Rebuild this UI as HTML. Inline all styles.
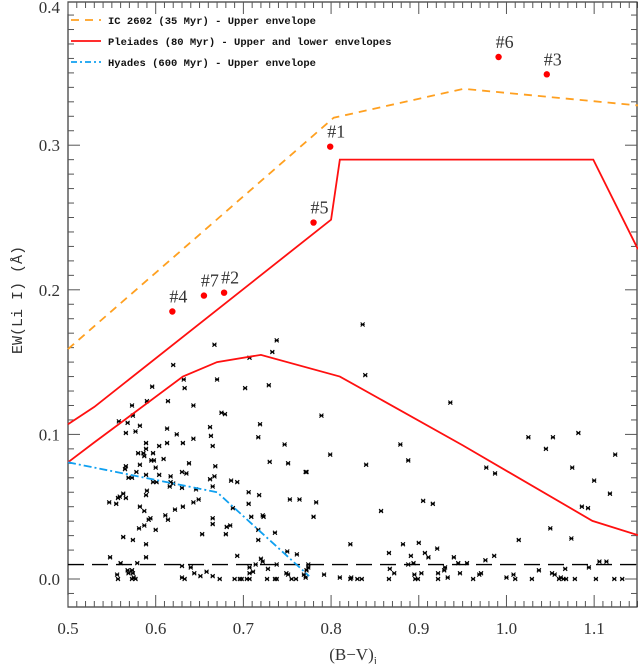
<!DOCTYPE html>
<html><head><meta charset="utf-8"><style>
html,body{margin:0;padding:0;background:#fff;width:638px;height:664px;overflow:hidden}
svg{display:block}
</style></head><body>
<svg id="chart" width="638" height="664" viewBox="0 0 638 664" xmlns="http://www.w3.org/2000/svg"></svg>
<script>
const xTicks=[0.5,0.6,0.7,0.8,0.9,1.0,1.1];
const xTickLabels=["0.5","0.6","0.7","0.8","0.9","1.0","1.1"];
const yTicks=[0.0,0.1,0.2,0.3,0.4];
const yTickLabels=["0.0","0.1","0.2","0.3","0.4"];
const ic2602X=[0.5,0.803,0.951,1.15];
const ic2602Y=[0.159,0.319,0.339,0.3275];
const pleiadesUpX=[0.5,0.53,0.8,0.81,1.099,1.15];
const pleiadesUpY=[0.107,0.119,0.2485,0.29,0.29,0.228];
const pleiadesLowX=[0.5,0.53,0.631,0.67,0.72,0.81,0.95,1.098,1.15];
const pleiadesLowY=[0.0807,0.0945,0.14,0.15,0.155,0.14,0.0925,0.0402,0.0303];
const hyadesX=[0.5,0.67,0.775];
const hyadesY=[0.0807,0.06,0.002];
const starLabels=["#1","#2","#3","#4","#5","#6","#7"];
const starX=[0.799,0.678,1.046,0.619,0.780,0.991,0.655];
const starY=[0.299,0.198,0.349,0.185,0.2465,0.361,0.196];
const fieldX=[0.667,0.738,0.733,0.707,0.620,0.632,0.670,0.596,0.633,0.702,0.729,0.614,0.590,0.573,0.643,0.574,0.675,0.679,0.558,0.568,0.582,0.719,0.613,0.577,0.566,0.624,0.662,0.663,0.643,0.717,0.631,0.613,0.589,0.589,0.604,0.665,0.747,0.580,0.586,0.587,0.597,0.595,0.598,0.609,0.638,0.582,0.730,0.751,0.566,0.565,0.600,0.668,0.578,0.630,0.635,0.771,0.569,0.573,0.589,0.604,0.617,0.662,0.667,0.597,0.601,0.617,0.620,0.686,0.693,0.616,0.630,0.665,0.590,0.589,0.646,0.706,0.563,0.559,0.557,0.566,0.547,0.555,0.718,0.643,0.649,0.706,0.753,0.764,0.582,0.631,0.688,0.587,0.622,0.611,0.614,0.594,0.592,0.709,0.722,0.723,0.665,0.665,0.581,0.587,0.600,0.681,0.685,0.717,0.736,0.653,0.680,0.563,0.574,0.589,0.717,0.750,0.761,0.548,0.589,0.693,0.560,0.579,0.720,0.722,0.714,0.738,0.630,0.640,0.707,0.711,0.707,0.658,0.644,0.651,0.665,0.728,0.568,0.573,0.569,0.574,0.556,0.557,0.573,0.575,0.577,0.630,0.633,0.673,0.690,0.696,0.698,0.704,0.707,0.727,0.736,0.738,0.749,0.751,0.755,0.760,0.769,0.771,0.774,0.774,0.772,
0.836,0.839,0.936,0.789,0.799,0.840,0.772,0.879,0.888,0.783,0.780,0.857,0.905,0.916,0.977,0.987,1.025,1.053,1.045,1.082,1.075,1.124,1.100,1.118,1.086,1.093,1.050,1.014,1.074,0.822,0.882,0.900,0.866,0.921,0.907,0.911,0.891,0.940,0.976,0.986,0.945,0.955,0.894,0.888,1.106,1.114,0.867,0.872,0.792,0.810,0.823,0.822,0.830,0.835,0.866,0.895,0.896,0.899,0.903,0.922,0.922,0.933,0.929,0.930,0.947,0.962,0.969,0.971,1.000,1.008,1.010,1.029,1.037,1.052,1.055,1.060,1.062,1.065,1.068,1.067,1.078,1.094,1.102,1.123,1.132];
const fieldY=[0.162,0.165,0.157,0.153,0.148,0.138,0.138,0.133,0.132,0.132,0.134,0.123,0.123,0.120,0.120,0.113,0.115,0.114,0.109,0.108,0.106,0.107,0.104,0.102,0.101,0.100,0.105,0.099,0.097,0.098,0.094,0.094,0.094,0.090,0.092,0.092,0.093,0.087,0.087,0.085,0.087,0.082,0.082,0.083,0.080,0.079,0.081,0.080,0.078,0.076,0.077,0.078,0.074,0.074,0.073,0.074,0.070,0.070,0.072,0.072,0.071,0.069,0.071,0.067,0.067,0.067,0.066,0.068,0.067,0.064,0.063,0.064,0.061,0.058,0.062,0.060,0.059,0.057,0.056,0.056,0.053,0.052,0.058,0.053,0.055,0.052,0.055,0.055,0.050,0.050,0.049,0.047,0.048,0.044,0.041,0.042,0.041,0.043,0.044,0.043,0.042,0.038,0.035,0.037,0.034,0.036,0.037,0.034,0.032,0.031,0.031,0.029,0.027,0.024,0.027,0.019,0.017,0.015,0.015,0.016,0.011,0.011,0.014,0.012,0.010,0.010,0.009,0.008,0.008,0.005,0.004,0.005,0.004,0.002,0.002,0.007,0.006,0.006,0.004,0.004,0.003,0.0,0.0,0.001,0.0,0.001,0.0,0.0,0.0,0.0,0.0,0.0,0.0,0.0,0.0,0.0,0.004,0.003,0.0,0.0,0.003,0.001,0.010,0.008,0.006,
0.176,0.141,0.122,0.113,0.086,0.079,0.074,0.093,0.082,0.053,0.043,0.047,0.054,0.052,0.077,0.073,0.098,0.098,0.090,0.101,0.077,0.086,0.068,0.059,0.050,0.049,0.035,0.027,0.028,0.024,0.024,0.025,0.018,0.021,0.018,0.015,0.016,0.015,0.013,0.016,0.011,0.011,0.011,0.010,0.012,0.012,0.007,0.004,0.003,0.001,0.001,0.0,0.0,0.0,0.0,0.003,0.0,0.0,0.004,0.004,0.0,0.001,0.006,0.008,0.004,0.0,0.003,0.004,0.001,0.003,0.0,0.0,0.006,0.004,0.003,0.0,0.001,0.0,0.0,0.007,0.0,0.008,0.0,0.0,0.0];
const detectionLimit=0.01;

const NS="http://www.w3.org/2000/svg";
const svg=document.getElementById('chart');
const L=68,R=638,T=2,B=607;
const X0=0.5,X1=1.15;
const sx=v=>L+(v-X0)/(X1-X0)*(R-L);
const sy=v=>579-v*1446;
function mk(tag,attrs,parent){const e=document.createElementNS(NS,tag);for(const k in attrs)e.setAttribute(k,attrs[k]);(parent||svg).appendChild(e);return e;}

const frame=mk('rect',{x:L,y:T,width:R-L-1,height:B-T,fill:'none',stroke:'#333','stroke-width':1.2});



const tg=mk('g',{stroke:'#555','stroke-width':1});


for(let i=0;i<=65;i++){const v=0.5+i*0.01;const x=sx(v);const major=i%10===0;const len=major?12:6;
 mk('line',{x1:x,y1:B,x2:x,y2:B-len},tg);mk('line',{x1:x,y1:T,x2:x,y2:T+len},tg);}
for(let i=-2;i<=40;i++){const v=i*0.01;const y=sy(v);if(y<T||y>B)continue;const major=i%10===0;const len=major?12:6;
 mk('line',{x1:L,y1:y,x2:L+len,y2:y},tg);mk('line',{x1:R-1,y1:y,x2:R-1-len,y2:y},tg);}

xTicks.forEach((v,i)=>{const t=mk('text',{x:sx(v),y:634,'text-anchor':'middle','font-family':'Liberation Serif, serif','font-size':17,fill:'#333'});t.textContent=xTickLabels[i];
 
 });
yTicks.forEach((v,i)=>{const y=Math.max(sy(v),7);const t=mk('text',{x:60,y:y+6,'text-anchor':'end','font-family':'Liberation Serif, serif','font-size':17,fill:'#333'});t.textContent=yTickLabels[i];
 
 });

const xt=mk('text',{x:353,y:660,'text-anchor':'middle','font-family':'Liberation Serif, serif','font-size':17,fill:'#333'});
xt.innerHTML='(B−V)<tspan font-size="11" dy="4">j</tspan>';


const yt=mk('text',{x:0,y:0,'text-anchor':'middle','font-family':'Liberation Mono, monospace','font-size':15,fill:'#333',transform:'translate(22,300) rotate(-90)'});
yt.textContent='EW(Li I) (Å)';



const dl=mk('line',{x1:L,y1:sy(detectionLimit),x2:R,y2:sy(detectionLimit),stroke:'#000','stroke-width':1.3,'stroke-dasharray':'16,8'});



function poly(xs,ys,color,dash,name){const p=mk('polyline',{points:xs.map((v,i)=>sx(v)+','+sy(ys[i])).join(' '),fill:'none',stroke:color,'stroke-width':1.8,'stroke-dasharray':dash||'none'});
 
 }

const fg=mk('g',{stroke:'#000','stroke-width':1.1});


fieldX.forEach((v,i)=>{const x=sx(v),y=sy(fieldY[i]);const g=mk('g',{},fg);
 
 
 mk('path',{d:`M${x-2},${y-2}L${x+2},${y+2}M${x-2},${y+2}L${x+2},${y-2}M${x-2},${y}L${x+2},${y}`},g);});

poly(ic2602X,ic2602Y,'#ffa020','8,6','ic2602-envelope');
poly(pleiadesUpX,pleiadesUpY,'#ff1010',null,'pleiades-upper-envelope');
poly(pleiadesLowX,pleiadesLowY,'#ff1010',null,'pleiades-lower-envelope');
poly(hyadesX,hyadesY,'#10a0f0','8,3,2,3','hyades-envelope');

starX.forEach((v,i)=>{const x=sx(v),y=sy(starY[i]);
 const c=mk('circle',{cx:x,cy:y,r:3.2,fill:'#ff0000'});
 
 
 const t=mk('text',{x:x-3,y:y-9,'font-family':'Liberation Serif, serif','font-size':18,fill:'#333'});t.textContent=starLabels[i];
 
 });

const lg=mk('g',{});


const legTexts=['IC 2602 (35 Myr) - Upper envelope','Pleiades (80 Myr) - Upper and lower envelopes','Hyades (600 Myr) - Upper envelope'];
const legColors=['#ffa020','#ff1010','#10a0f0'];
const legDash=['8,6','none','6,3,2,3'];
legTexts.forEach((s,i)=>{const y=20+i*21;
 const ln=mk('line',{x1:71,y1:y,x2:101,y2:y,stroke:legColors[i],'stroke-width':1.8,'stroke-dasharray':legDash[i]},lg);
 
 
 const t=mk('text',{x:108,y:y+4,'font-family':'Liberation Mono, monospace','font-size':10.5,'font-weight':'bold',fill:'#111'},lg);t.textContent=s;
 
 });
</script>
</body></html>
